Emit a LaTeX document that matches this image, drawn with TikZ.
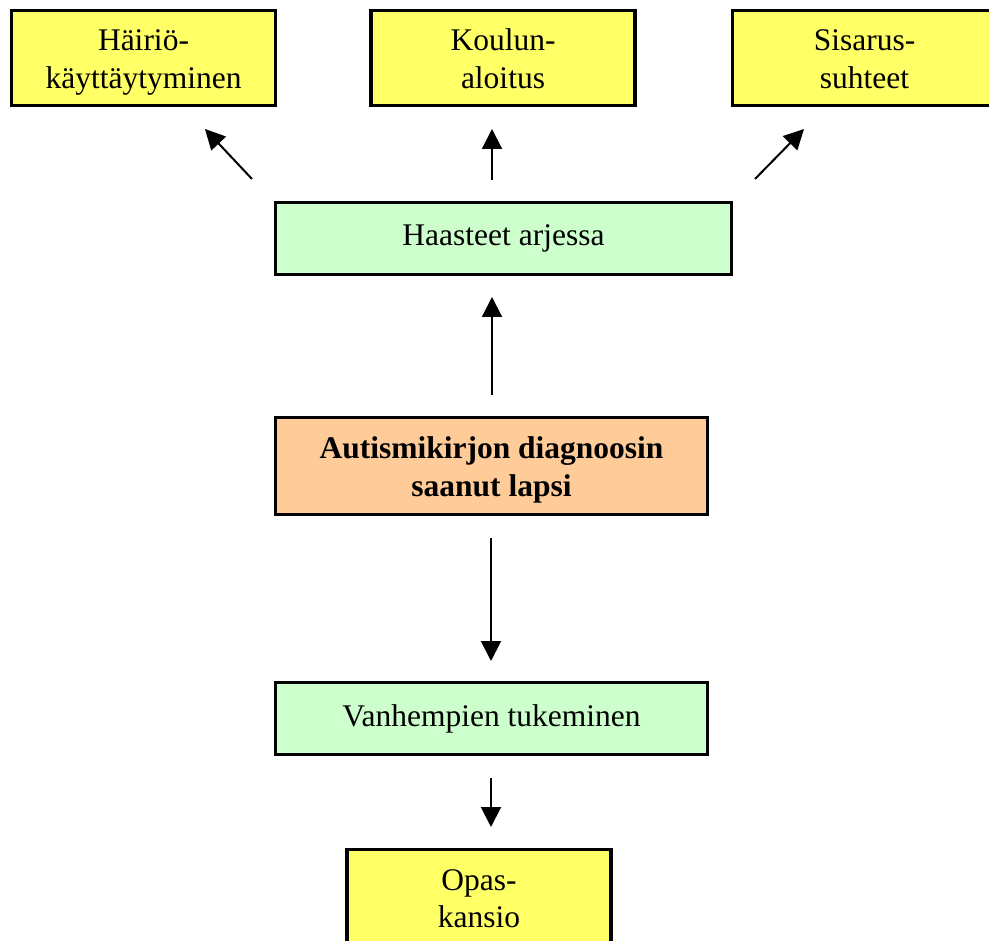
\documentclass[tikz,border=0pt]{standalone}
\usepackage{fontspec}
\setmainfont{Liberation Serif}
\usetikzlibrary{arrows.meta}
\definecolor{boxyellow}{HTML}{FFFF66}
\definecolor{boxgreen}{HTML}{CCFFCC}
\definecolor{boxorange}{HTML}{FFCC99}
\newcommand{\topstrut}{\rule{0pt}{33pt}}
\newcommand{\botstrut}{\rule[-9.5pt]{0pt}{9.5pt}}
\tikzset{
  box/.style={draw=black, line width=3.2pt, inner sep=0pt, outer sep=0pt, align=center,
    font=\fontsize{31.5}{37.5}\selectfont},
  ybox/.style={box, fill=boxyellow, minimum width=264pt, minimum height=95pt},
  gbox/.style={box, fill=boxgreen, minimum height=72pt},
  obox/.style={box, fill=boxorange, minimum height=97pt},
  arr/.style={line width=2pt, -{Triangle[length=20pt,width=20pt]}}
}
\begin{document}
\begin{tikzpicture}[x=1pt,y=-1pt]
\useasboundingbox (0,0) rectangle (989,941);
\node[ybox] (h) at (143.5,58) {\topstrut Häiriö-\\käyttäytyminen\botstrut};
\node[ybox] (k) at (503,58) {\topstrut Koulun-\\aloitus\botstrut};
\node[ybox] (s) at (864.5,58) {\topstrut Sisarus-\\suhteet\botstrut};
\node[gbox, minimum width=456pt] (ha) at (503.5,238.5) {Haasteet arjessa};
\node[obox, minimum width=432pt] (au) at (491.5,466) {\topstrut\bfseries Autismikirjon diagnoosin\\\bfseries saanut lapsi\botstrut};
\node[gbox, minimum width=432pt] (va) at (491.5,718.5) {Vanhempien tukeminen};
\node[ybox] (op) at (479,897) {\topstrut Opas-\\kansio\botstrut};
\coordinate (a1s) at (252,179); \coordinate (a1e) at (205,129);
\coordinate (a2s) at (492,180); \coordinate (a2e) at (492,129);
\coordinate (a3s) at (755,179); \coordinate (a3e) at (804,129);
\coordinate (a4s) at (492,395); \coordinate (a4e) at (492,297);
\coordinate (a5s) at (491,538); \coordinate (a5e) at (491,661);
\coordinate (a6s) at (491,778); \coordinate (a6e) at (491,827);
\draw[arr] (a1s) -- (a1e);
\draw[arr] (a2s) -- (a2e);
\draw[arr] (a3s) -- (a3e);
\draw[arr] (a4s) -- (a4e);
\draw[arr] (a5s) -- (a5e);
\draw[arr] (a6s) -- (a6e);
\end{tikzpicture}
\end{document}
